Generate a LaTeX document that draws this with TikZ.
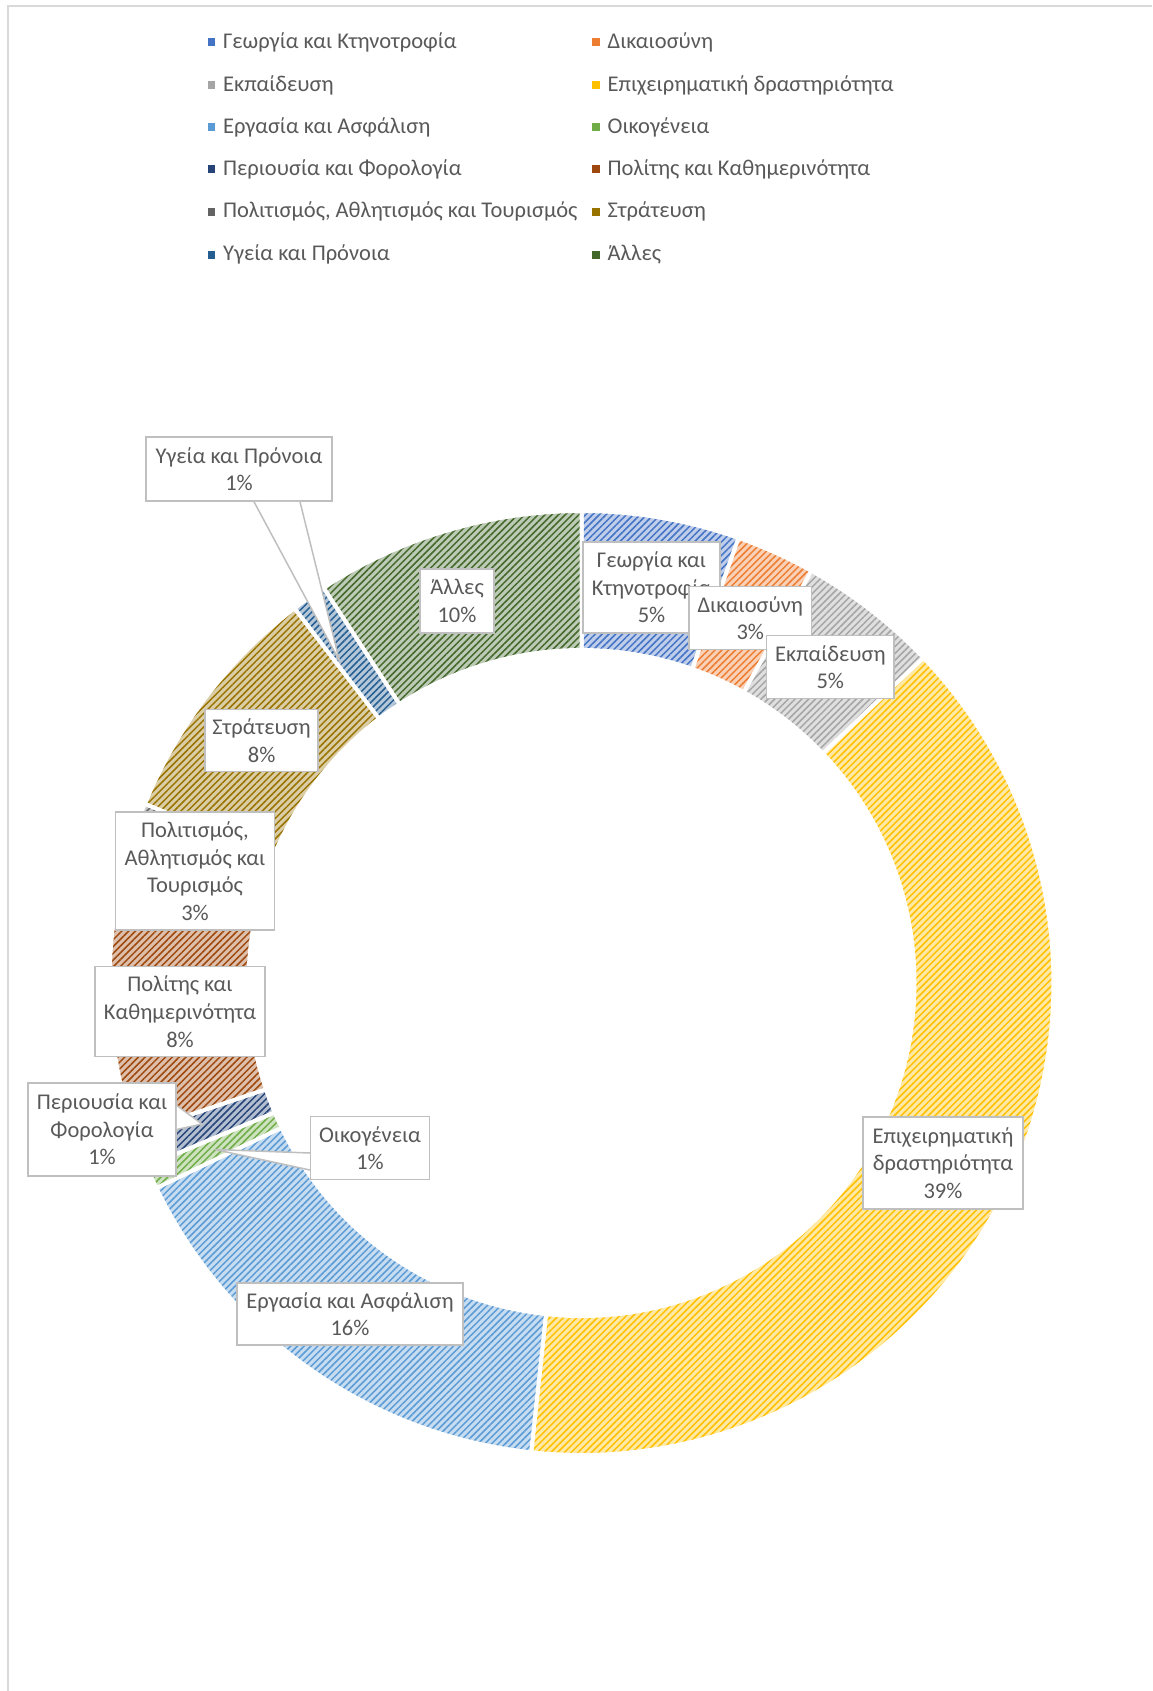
\documentclass[tikz,border=0pt]{standalone}
\usepackage{fontspec}
\setmainfont{Carlito}
\usetikzlibrary{positioning, patterns.meta}

\definecolor{georgia}{HTML}{4472C4}
\definecolor{dikaio}{HTML}{ED7D31}
\definecolor{ekpaid}{HTML}{A5A5A5}
\definecolor{epix}{HTML}{FFC000}
\definecolor{ergasia}{HTML}{5B9BD5}
\definecolor{oikog}{HTML}{70AD47}
\definecolor{periou}{HTML}{264478}
\definecolor{politis}{HTML}{9E480E}
\definecolor{politism}{HTML}{636363}
\definecolor{strat}{HTML}{997300}
\definecolor{ygeia}{HTML}{255E91}
\definecolor{alles}{HTML}{43682B}
\definecolor{textgray}{HTML}{595959}
\definecolor{boxgray}{HTML}{BFBFBF}
\definecolor{framegray}{HTML}{D9D9D9}

\tikzset{slice/.style={preaction={fill=#1!35}, pattern={Lines[angle=45,distance=2.4pt,line width=0.75pt]}, pattern color=#1, draw=white, line width=2pt}}
\tikzstyle{callbox} = [rectangle, draw=boxgray, fill=white, line width=0.75pt, align=center, text=textgray, inner sep=1pt]
\tikzstyle{pointer} = [draw=boxgray, fill=white, line width=0.75pt]
\tikzstyle{legmark} = [rectangle, minimum width=3.8pt, minimum height=4pt, inner sep=0pt]
\tikzstyle{legtext} = [text=textgray, inner sep=0pt]

\begin{document}
\begin{tikzpicture}[x=0.5pt, y=-0.5pt, font=\fontsize{11.25}{13.8}\selectfont]
\useasboundingbox (0,0) rectangle (1152,1691);
\draw[framegray, line width=1pt] (8,1691) -- (8,6) -- (1152,6);

% legend
\node (mkgeorgia) [legmark, fill=georgia] at (211.5,42) {};
\node (lggeorgia) [legtext, right=3.5pt of mkgeorgia] {Γεωργία και Κτηνοτροφία};
\node (mkdikaio) [legmark, fill=dikaio] at (596,42) {};
\node (lgdikaio) [legtext, right=3.5pt of mkdikaio] {Δικαιοσύνη};
\node (mkekpaid) [legmark, fill=ekpaid] at (211.5,85) {};
\node (lgekpaid) [legtext, right=3.5pt of mkekpaid] {Εκπαίδευση};
\node (mkepix) [legmark, fill=epix] at (596,85) {};
\node (lgepix) [legtext, right=3.5pt of mkepix] {Επιχειρηματική δραστηριότητα};
\node (mkergasia) [legmark, fill=ergasia] at (211.5,127) {};
\node (lgergasia) [legtext, right=3.5pt of mkergasia] {Εργασία και Ασφάλιση};
\node (mkoikog) [legmark, fill=oikog] at (596,127) {};
\node (lgoikog) [legtext, right=3.5pt of mkoikog] {Οικογένεια};
\node (mkperiou) [legmark, fill=periou] at (211.5,169) {};
\node (lgperiou) [legtext, right=3.5pt of mkperiou] {Περιουσία και Φορολογία};
\node (mkpolitis) [legmark, fill=politis] at (596,169) {};
\node (lgpolitis) [legtext, right=3.5pt of mkpolitis] {Πολίτης και Καθημερινότητα};
\node (mkpolitism) [legmark, fill=politism] at (211.5,211.5) {};
\node (lgpolitism) [legtext, right=3.5pt of mkpolitism] {Πολιτισμός, Αθλητισμός και Τουρισμός};
\node (mkstrat) [legmark, fill=strat] at (596,211.5) {};
\node (lgstrat) [legtext, right=3.5pt of mkstrat] {Στράτευση};
\node (mkygeia) [legmark, fill=ygeia] at (211.5,254.5) {};
\node (lgygeia) [legtext, right=3.5pt of mkygeia] {Υγεία και Πρόνοια};
\node (mkalles) [legmark, fill=alles] at (596,254.5) {};
\node (lgalles) [legtext, right=3.5pt of mkalles] {Άλλες};

% donut
\begin{scope}[shift={(581.5,983)}]
\foreach \from/\to/\col in {-90/-70.56/georgia, -70.56/-60.84/dikaio, -60.84/-43.56/ekpaid, -43.56/96.12/epix, 96.12/154.26/ergasia, 154.26/157.14/oikog, 157.14/161.4/periou, 161.4/190.8/politis, 190.8/202.32/politism, 202.32/232.56/strat, 232.56/236.88/ygeia, 236.88/270/alles}
  \draw[slice=\col] (\from:472) arc[start angle=\from, end angle=\to, radius=472] -- (\to:333) arc[start angle=\to, end angle=\from, radius=333] -- cycle;
\end{scope}

% data labels
\node (ygeiabox) [callbox, minimum width=93pt, minimum height=32pt] at (239,469) {Υγεία και Πρόνοια\\1\%};
\coordinate (ygeiatip) at (339.5,661);
\filldraw[pointer] ([xshift=7.5pt]ygeiabox.south) -- (ygeiatip) -- ([xshift=30.5pt]ygeiabox.south);
\node (allesbox) [callbox, minimum width=37pt, minimum height=32pt] at (457,601) {Άλλες\\10\%};
\node (georgiabox) [callbox, minimum width=68.5pt, minimum height=45.5pt] at (651.5,587.5) {Γεωργία και\\Κτηνοτροφία\\5\%};
\node (dikaiobox) [callbox, minimum width=61.4pt, minimum height=31.3pt] at (750.3,618) {Δικαιοσύνη\\3\%};
\node (ekpaidbox) [callbox, minimum width=63.7pt, minimum height=31.3pt] at (830.3,667) {Εκπαίδευση\\5\%};
\node (epixbox) [callbox, minimum width=80pt, minimum height=46pt] at (943,1163) {Επιχειρηματική\\δραστηριότητα\\39\%};
\node (ergasiabox) [callbox, minimum width=112.8pt, minimum height=31.2pt] at (350,1314) {Εργασία και Ασφάλιση\\16\%};
\node (oikogbox) [callbox, minimum width=59.3pt, minimum height=31.3pt] at (370,1148) {Οικογένεια\\1\%};
\coordinate (oikogtip) at (215,1149.5);
\filldraw[pointer] ([yshift=-2.5pt]oikogbox.west) -- (oikogtip) -- ([yshift=-11pt]oikogbox.west);
\node (perioubox) [callbox, minimum width=74pt, minimum height=46.5pt] at (102,1129.5) {Περιουσία και\\Φορολογία\\1\%};
\coordinate (perioutip) at (202,1124);
\filldraw[pointer] ([yshift=12pt]perioubox.east) -- (perioutip) -- ([yshift=0pt]perioubox.east);
\node (politisbox) [callbox, minimum width=85pt, minimum height=45pt] at (180,1011.7) {Πολίτης και\\Καθημερινότητα\\8\%};
\node (politismbox) [callbox, minimum width=79.3pt, minimum height=58.9pt] at (195,871) {Πολιτισμός,\\Αθλητισμός και\\Τουρισμός\\3\%};
\node (stratbox) [callbox, minimum width=56.6pt, minimum height=31pt] at (261.6,740.5) {Στράτευση\\8\%};
\end{tikzpicture}
\end{document}
